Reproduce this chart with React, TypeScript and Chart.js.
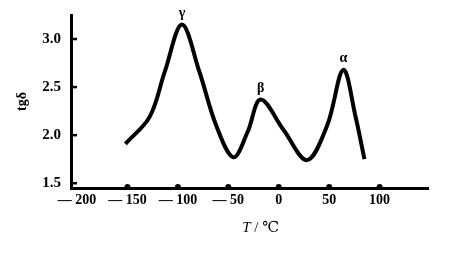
import React, { useEffect, useRef } from "react";
import { Chart, registerables } from "chart.js";
Chart.register(...registerables);

const temperatures = [-152, -128, -113, -96, -79, -62, -45, -31, -18, 5, 28, 48, 64, 76, 85];
const tgDelta = [1.91, 2.19, 2.66, 3.15, 2.67, 2.1, 1.77, 2.03, 2.37, 2.05, 1.74, 2.1, 2.68, 2.2, 1.75];
const xTicks = [-200, -150, -100, -50, 0, 50, 100];
const yTicks = [1.5, 2.0, 2.5, 3.0];
const peakNames = ["γ", "β", "α"];
const peakTemps = [-96, -18, 64];
const peakValues = [3.15, 2.37, 2.68];

const fontFam = "'Liberation Serif', 'DejaVu Serif', serif";

export default function App() {
  const ref = useRef<HTMLCanvasElement | null>(null);
  useEffect(() => {
    document.body.style.margin = "0";
    const peakPlugin = {
      id: "peaks",
      afterDraw(chart: any) {
        const ctx = chart.ctx;
        const xs = chart.scales.x;
        const ys = chart.scales.y;
        ctx.save();
        ctx.fillStyle = "#000";
        ctx.strokeStyle = "#000";
        ctx.font = `bold 14px ${fontFam}`;
        ctx.textAlign = "center";
        ctx.textBaseline = "bottom";
        peakNames.forEach((n, i) => {
          ctx.fillText(n, xs.getPixelForValue(peakTemps[i]), ys.getPixelForValue(peakValues[i]) - 4);
        });
        // inward tick marks
        ctx.lineWidth = 2.5;
        const ax = xs.left;
        yTicks.forEach((v) => {
          const py = ys.getPixelForValue(v);
          ctx.beginPath();
          ctx.moveTo(ax, py);
          ctx.lineTo(ax + 6, py);
          ctx.stroke();
        });
        const ay = ys.bottom;
        xTicks.slice(1).forEach((v) => {
          const px = xs.getPixelForValue(v);
          ctx.beginPath();
          ctx.arc(px, ay - 1, 3, Math.PI, 0);
          ctx.fill();
        });
        // x axis title: "T / ℃"
        const cx = xs.getPixelForValue(-18);
        const cy = ay + 40;
        ctx.textBaseline = "middle";
        ctx.textAlign = "left";
        ctx.font = `italic 15px ${fontFam}`;
        const t = "T";
        const rest = " / ℃";
        const wT = ctx.measureText(t).width;
        ctx.font = `15px ${fontFam}`;
        const wR = ctx.measureText(rest).width;
        const sx = cx - (wT + wR) / 2;
        ctx.font = `italic 15px ${fontFam}`;
        ctx.fillText(t, sx, cy);
        ctx.font = `15px ${fontFam}`;
        ctx.fillText(rest, sx + wT, cy);
        ctx.restore();
      },
    };
    const chart = new Chart(ref.current!, {
      type: "line",
      data: {
        datasets: [
          {
            data: temperatures.map((t, i) => ({ x: t, y: tgDelta[i] })),
            borderColor: "#000",
            borderWidth: 4,
            pointRadius: 0,
            tension: 0.35,
            fill: false,
          },
        ],
      },
      options: {
        animation: false,
        responsive: false,
        layout: { padding: { top: 15, right: 21, left: 0, bottom: 0 } },
        plugins: { legend: { display: false }, tooltip: { enabled: false } },
        scales: {
          x: {
            type: "linear",
            min: -206,
            max: 148,
            afterBuildTicks: (s: any) => {
              s.ticks = xTicks.map((v) => ({ value: v }));
            },
            afterFit: (s: any) => {
              s.height = 66;
            },
            grid: { display: false },
            border: { display: true, color: "#000", width: 3 },
            ticks: {
              color: "#000",
              padding: -4,
              maxRotation: 0,
              autoSkip: false,
              font: { family: fontFam, size: 14, weight: "bold" },
              callback: (v: any) => (v < 0 ? "— " + Math.abs(v) : String(v)),
            },
            title: { display: false },
          },
          y: {
            min: 1.45,
            max: 3.25,
            afterBuildTicks: (s: any) => {
              s.ticks = yTicks.map((v) => ({ value: v }));
            },
            afterFit: (s: any) => {
              s.width = 71;
            },
            grid: { display: false },
            border: { display: true, color: "#000", width: 3 },
            ticks: {
              color: "#000",
              padding: 2,
              font: { family: fontFam, size: 15, weight: "bold" },
              callback: (v: any) => Number(v).toFixed(1),
            },
            title: {
              display: true,
              text: "tgδ",
              color: "#000",
              padding: { top: 14 },
              font: { family: fontFam, size: 14, weight: "bold" },
            },
          },
        },
      },
      plugins: [peakPlugin],
    } as any);
    return () => chart.destroy();
  }, []);
  return (
    <div style={{ width: 449, height: 254, background: "#fff" }}>
      <canvas ref={ref} width={449} height={254} style={{ display: "block" }} />
    </div>
  );
}
